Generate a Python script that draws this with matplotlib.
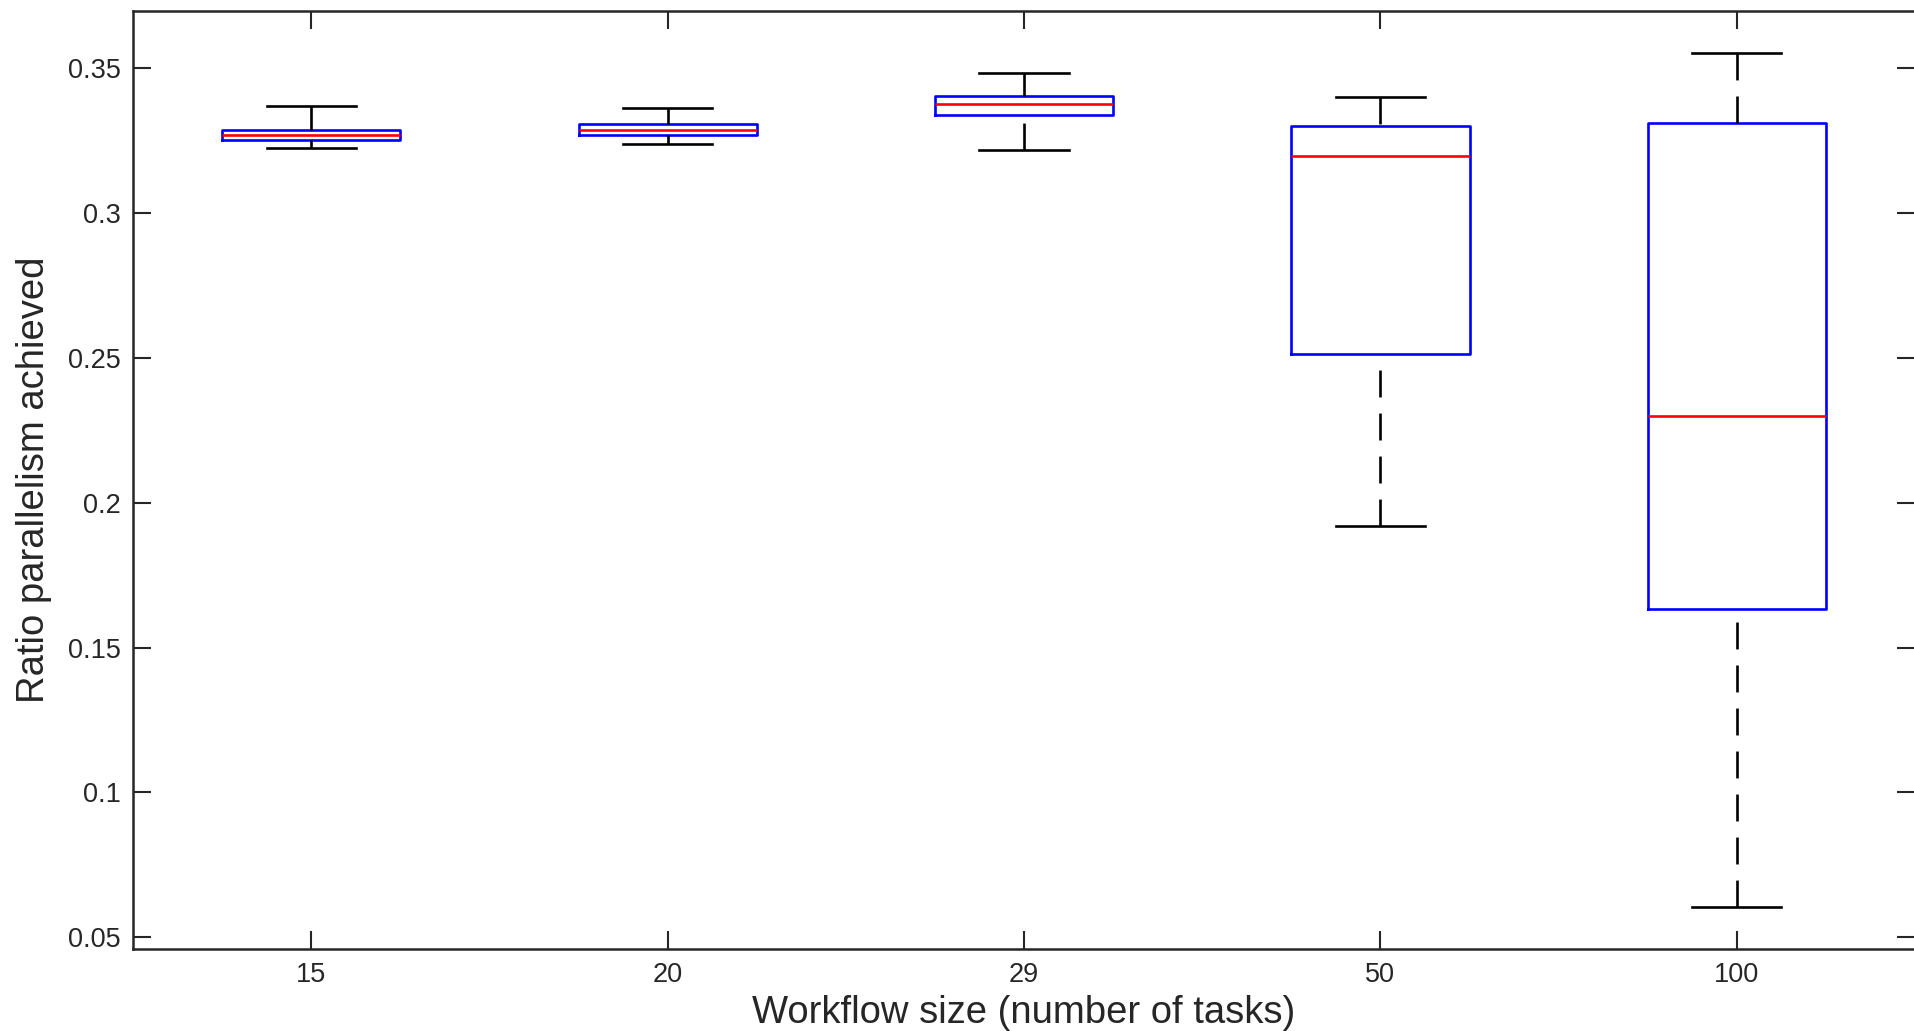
import matplotlib
matplotlib.use("Agg")
import matplotlib.pyplot as plt

# workflow sizes and the spread of the achieved parallelism ratio
sizes = ["15", "20", "29", "50", "100"]
whislo = [0.3225, 0.3237, 0.3218, 0.1920, 0.0606]
q1 = [0.3252, 0.3269, 0.3339, 0.2514, 0.1633]
med = [0.3268, 0.3287, 0.3376, 0.3195, 0.2300]
q3 = [0.3286, 0.3308, 0.3402, 0.3300, 0.3309]
whishi = [0.3368, 0.3363, 0.3484, 0.3399, 0.3551]

yticks = [0.05, 0.1, 0.15, 0.2, 0.25, 0.3, 0.35]

plt.rcParams['font.family'] = ['Liberation Sans', 'DejaVu Sans']
axis_color = '#262626'
lw = 1.9

stats = []
for i, name in enumerate(sizes):
    stats.append(dict(label=name, whislo=whislo[i], q1=q1[i], med=med[i],
                      q3=q3[i], whishi=whishi[i], fliers=[]))

fig = plt.figure(figsize=(19.14, 10.31), dpi=100)
ax = fig.add_axes([133 / 1914, 1 - 949.3 / 1031, 1782 / 1914, 938.3 / 1031])

parts = ax.bxp(stats, widths=0.5, capwidths=0.25, showfliers=False,
               boxprops=dict(color='#0000ff', linewidth=lw),
               medianprops=dict(color='#ff0000', linewidth=lw),
               whiskerprops=dict(color='black', linewidth=lw,
                                 linestyle=(0, (10.2, 6.1))),
               capprops=dict(color='black', linewidth=lw))

# start the dash pattern at the cap end of each whisker
for w in parts['whiskers']:
    w.set_ydata(w.get_ydata()[::-1])

ax.set_xlim(0.5, 5.5)
ax.set_ylim(0.04586, 0.36967)
ax.set_yticks(yticks)
ax.set_yticklabels(['%g' % v for v in yticks])
ax.set_xticklabels(sizes)

ax.tick_params(direction='in', length=13, width=1.5, colors=axis_color,
               labelcolor=axis_color, labelsize=19.5, pad=9,
               top=True, right=True)
for s in ax.spines.values():
    s.set_color(axis_color)
    s.set_linewidth(1.8)

ax.set_xlabel('Workflow size (number of tasks)', fontsize=27.5,
              color=axis_color, labelpad=5)
ax.set_ylabel('Ratio parallelism achieved', fontsize=27.5,
              color=axis_color, labelpad=11)

fig.savefig('out.png', dpi=100)
